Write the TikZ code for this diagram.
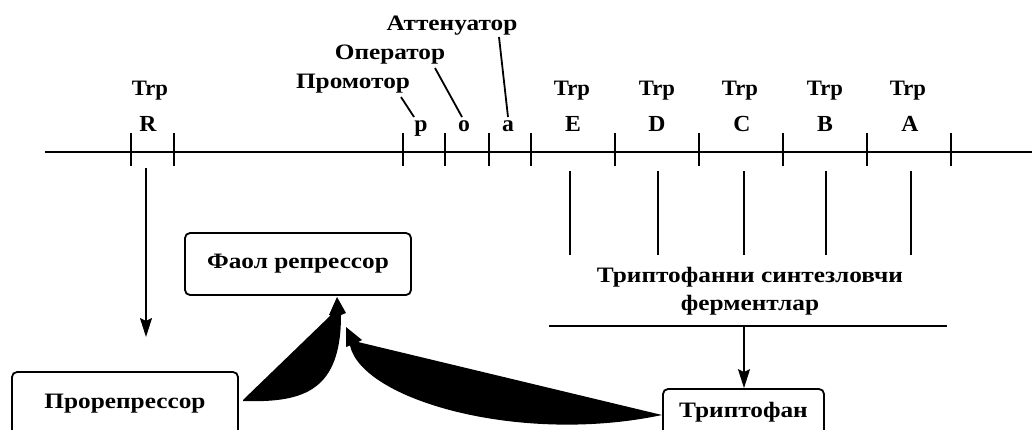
\documentclass[tikz,border=0pt]{standalone}
\usepackage{fontspec}
\setmainfont{Liberation Serif}[FakeStretch=1.03]
\newfontfamily\cyr{Liberation Serif}[FakeStretch=1.15]
\usetikzlibrary{arrows.meta}
\begin{document}
\begin{tikzpicture}[x=1pt,y=-1pt,
  txt/.style={font=\bfseries\fontsize{22}{26}\selectfont, inner sep=0pt},
  ctxt/.style={font=\cyr\bfseries\fontsize{22}{26}\selectfont, inner sep=0pt},
  lbl/.style={txt, anchor=base},
  glbl/.style={font=\bfseries\fontsize{23}{26}\selectfont, inner sep=0pt, anchor=base},
  clbl/.style={ctxt, anchor=base},
  mainline/.style={line width=2.5pt},
  tick/.style={line width=2.5pt},
  thin/.style={line width=1.8pt},
  leader/.style={line width=1.8pt},
  box/.style={draw, line width=1.8pt, rounded corners=5pt},
  arr/.style={line width=1.6pt, -{Stealth[length=19pt,width=12pt,inset=3pt]}},
  fat/.style={fill=black, draw=none}
]
\useasboundingbox (0,0) rectangle (1032,429);

% main line
\coordinate (ml) at (45,152);
\coordinate (mr) at (1032,152);
\draw[mainline] (ml) -- (mr);
\foreach \x [count=\i] in {131,174,403,445,489,531,615,699,783,867,951}{
  \coordinate (tt\i) at (\x,133);
  \coordinate (tb\i) at (\x,166);
  \draw[tick] (tt\i) -- (tb\i);
}

% gene labels
\node[lbl] (trpR) at (150,95) {Trp};
\node[glbl] (gR) at (148,131) {R};
\node[lbl] (trpE) at (572,95) {Trp};
\node[glbl] (gE) at (573,131) {E};
\node[lbl] (trpD) at (657,95) {Trp};
\node[glbl] (gD) at (657,131) {D};
\node[lbl] (trpC) at (740,95) {Trp};
\node[glbl] (gC) at (742,131) {C};
\node[lbl] (trpB) at (825,95) {Trp};
\node[glbl] (gB) at (825,131) {B};
\node[lbl] (trpA) at (908,95) {Trp};
\node[glbl] (gA) at (910,131) {A};

\node[glbl] (gp) at (421,131) {p};
\node[glbl] (go) at (464,131) {o};
\node[glbl] (ga) at (508,131) {a};

\node[clbl] (prom) at (353,88) {Промотор};
\node[clbl] (oper) at (390,59) {Оператор};
\node[clbl] (att) at (452,30) {Аттенуатор};

\coordinate (promA) at (401,97);
\coordinate (promB) at (414,117);
\coordinate (operA) at (435,68);
\coordinate (operB) at (462,117);
\coordinate (attA) at (499,37);
\coordinate (attB) at (508,117);
\draw[leader] (promA) -- (promB);
\draw[leader] (operA) -- (operB);
\draw[leader] (attA) -- (attB);

% lines under genes
\foreach \x [count=\i] in {570,658,744,826,911}{
  \coordinate (ut\i) at (\x,171);
  \coordinate (ub\i) at (\x,255);
  \draw[thin] (ut\i) -- (ub\i);
}

\node[clbl] (enz1) at (750,282) {Триптофанни синтезловчи};
\node[clbl] (enz2) at (750,310) {ферментлар};
\coordinate (hl) at (549,326);
\coordinate (hr) at (947,326);
\coordinate (hm) at (744,326);
\draw[thin] (hl) -- (hr);

% boxes
\node[box, ctxt, minimum width=226pt, minimum height=62pt] (faol) at (298,264) {Фаол репрессор};
\node[box, ctxt, minimum width=226pt, minimum height=64pt] (pro) at (125,404) {Прорепрессор};
\node[box, ctxt, minimum width=161pt, minimum height=52pt, text depth=0pt] (tryp) at (743.5,415) {\raisebox{10pt}{Триптофан}};

% arrows
\coordinate (rtop) at (146,168);
\draw[arr] (rtop) -- (146,337) coordinate (rend);
\draw[arr] (hm) -- (hm |- tryp.north);

% fat curved arrows
\fill[fat] (243,400) -- (331,315) -- (329,315) -- (337,297) -- (346,313) -- (341,315)
  .. controls (341,390) and (305,403) .. (243,401) -- cycle;
\fill[fat] (662,415) -- (358,342) -- (362,340) -- (346,327) -- (346,347) -- (350,345.5)
  .. controls (362,400) and (520,445) .. (662,415) -- cycle;
\end{tikzpicture}
\end{document}
